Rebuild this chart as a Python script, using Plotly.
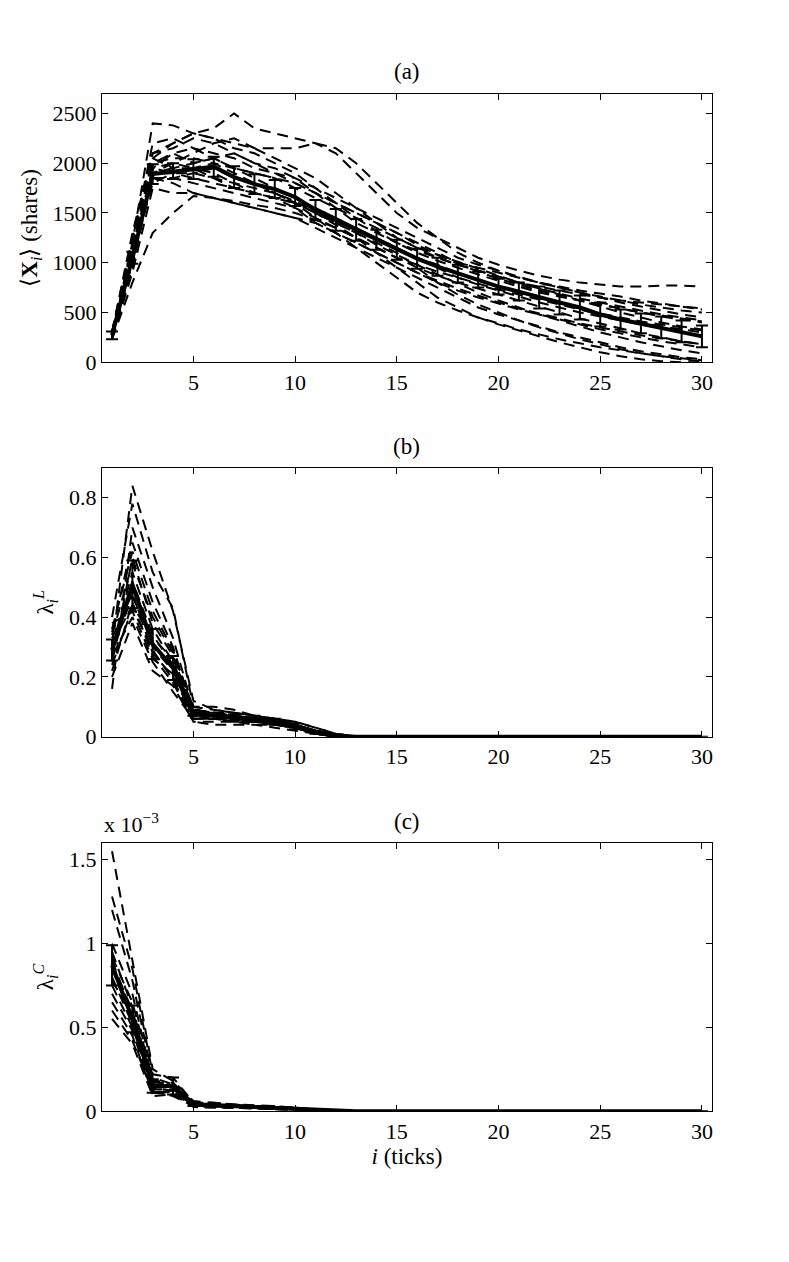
import plotly.graph_objects as go

ticks_i = list(range(1, 31))

# panel (a): <X_i> (shares), one list per run
runs_a = [
    [300, 1300, 2100, 2200, 2300, 2350, 2500, 2350, 2300, 2250, 2200, 2100, 1900, 1700, 1500, 1350, 1250, 1150, 1050, 980, 920, 870, 830, 800, 780, 760, 760, 770, 770, 760],
    [250, 1200, 2400, 2380, 2300, 2250, 2200, 2150, 2050, 1950, 1850, 1700, 1550, 1400, 1250, 1150, 1050, 980, 920, 860, 800, 760, 720, 680, 650, 620, 600, 580, 560, 540],
    [280, 1150, 2050, 2200, 2300, 2250, 2150, 2100, 2000, 1900, 1750, 1600, 1450, 1320, 1200, 1100, 1020, 950, 880, 820, 760, 700, 660, 620, 580, 540, 500, 460, 430, 400],
    [260, 1100, 1900, 2000, 2100, 2200, 2250, 2150, 2150, 2150, 2200, 2150, 2000, 1800, 1600, 1400, 1250, 1100, 1000, 920, 850, 800, 760, 720, 690, 660, 620, 590, 560, 530],
    [300, 1000, 1950, 2100, 2150, 2050, 1950, 1900, 1850, 1800, 1700, 1600, 1500, 1400, 1300, 1200, 1100, 1000, 950, 900, 850, 800, 750, 700, 650, 600, 560, 520, 480, 450],
    [230, 800, 1300, 1500, 1670, 1650, 1600, 1550, 1500, 1450, 1400, 1300, 1200, 1100, 1000, 900, 800, 720, 650, 590, 530, 480, 430, 380, 330, 290, 250, 210, 180, 150],
    [270, 1100, 1850, 1850, 1800, 1750, 1700, 1650, 1600, 1550, 1450, 1350, 1250, 1100, 950, 800, 650, 550, 450, 380, 320, 260, 200, 150, 100, 60, 30, 10, 0, 0],
    [290, 1050, 2000, 2050, 2050, 2000, 1900, 1800, 1700, 1600, 1500, 1400, 1300, 1200, 1100, 950, 800, 680, 580, 500, 420, 350, 290, 230, 180, 130, 90, 60, 30, 10],
    [250, 1150, 1950, 1900, 1900, 1850, 1800, 1750, 1700, 1620, 1500, 1380, 1250, 1150, 1050, 980, 910, 850, 790, 730, 680, 630, 580, 530, 480, 440, 400, 360, 330, 300],
    [280, 1000, 1850, 1800, 1700, 1650, 1620, 1580, 1550, 1500, 1430, 1350, 1250, 1150, 1050, 950, 870, 800, 740, 680, 620, 560, 500, 440, 390, 340, 290, 250, 210, 180],
    [300, 1200, 2000, 2100, 2000, 2050, 2100, 2000, 1900, 1850, 1750, 1650, 1550, 1450, 1350, 1250, 1150, 1050, 980, 920, 860, 800, 750, 700, 660, 620, 580, 550, 520, 500],
    [260, 1050, 1900, 1950, 1950, 1900, 1800, 1700, 1650, 1550, 1400, 1300, 1200, 1100, 1000, 900, 820, 740, 670, 600, 540, 490, 440, 390, 350, 310, 270, 240, 210, 180],
    [240, 900, 1750, 1700, 1700, 1650, 1600, 1550, 1500, 1450, 1350, 1250, 1150, 1050, 950, 850, 750, 650, 550, 480, 420, 360, 300, 250, 200, 150, 110, 80, 50, 30],
    [310, 1250, 2100, 2150, 2250, 2200, 2100, 2000, 1950, 1850, 1700, 1550, 1400, 1300, 1200, 1120, 1050, 980, 920, 860, 800, 740, 690, 640, 600, 560, 520, 480, 450, 420],
    [270, 1100, 1800, 1900, 1950, 2000, 1950, 1850, 1750, 1650, 1550, 1450, 1350, 1250, 1150, 1050, 950, 850, 780, 720, 660, 600, 550, 500, 460, 420, 380, 340, 300, 270],
    [250, 950, 1900, 1900, 1850, 1800, 1750, 1700, 1650, 1600, 1500, 1400, 1300, 1180, 1080, 980, 880, 790, 700, 620, 550, 480, 420, 360, 300, 250, 200, 160, 120, 90],
    [290, 1150, 2050, 1950, 2000, 2050, 1950, 1900, 1850, 1750, 1650, 1550, 1450, 1350, 1250, 1150, 1080, 1010, 940, 870, 800, 740, 680, 620, 560, 500, 450, 400, 360, 330],
    [260, 1000, 1850, 1850, 1900, 1950, 1850, 1800, 1700, 1600, 1450, 1300, 1150, 1000, 850, 700, 600, 520, 450, 390, 330, 280, 230, 190, 150, 120, 90, 60, 40, 20],
    [280, 1100, 1950, 2000, 1950, 1850, 1750, 1700, 1650, 1600, 1550, 1450, 1350, 1250, 1150, 1050, 980, 900, 830, 760, 700, 640, 590, 540, 490, 450, 410, 380, 350, 320],
    [300, 1200, 2200, 2250, 2150, 2100, 2050, 1950, 1900, 1800, 1700, 1600, 1500, 1400, 1300, 1180, 1080, 990, 910, 840, 780, 720, 670, 620, 580, 540, 500, 470, 440, 410],
]
mean_a = [270, 1050, 1890, 1920, 1940, 1965, 1860, 1790, 1740, 1660, 1530, 1430, 1330, 1230, 1130, 1040, 960, 890, 830, 760, 710, 650, 600, 550, 480, 430, 390, 350, 310, 260]
err_a = [40, 60, 100, 80, 100, 100, 110, 100, 90, 90, 100, 110, 110, 100, 100, 100, 90, 90, 80, 80, 90, 110, 120, 120, 120, 100, 100, 110, 110, 110]

# panel (b): lambda^L, zero from tick 13 on
zeros_b = [0] * 17
runs_b = [
    [0.30, 0.84, 0.62, 0.42, 0.12, 0.09, 0.08, 0.07, 0.06, 0.04, 0.02, 0.005, 0] + zeros_b,
    [0.40, 0.78, 0.55, 0.43, 0.10, 0.10, 0.09, 0.07, 0.05, 0.03, 0.01, 0, 0] + zeros_b,
    [0.16, 0.70, 0.50, 0.33, 0.09, 0.08, 0.07, 0.06, 0.06, 0.05, 0.03, 0.01, 0] + zeros_b,
    [0.35, 0.65, 0.45, 0.30, 0.08, 0.07, 0.06, 0.05, 0.04, 0.03, 0.01, 0, 0] + zeros_b,
    [0.25, 0.60, 0.38, 0.27, 0.07, 0.07, 0.07, 0.06, 0.05, 0.04, 0.02, 0.005, 0] + zeros_b,
    [0.30, 0.55, 0.36, 0.25, 0.08, 0.08, 0.07, 0.06, 0.05, 0.03, 0.01, 0, 0] + zeros_b,
    [0.28, 0.50, 0.30, 0.22, 0.06, 0.06, 0.06, 0.05, 0.04, 0.03, 0.02, 0.005, 0] + zeros_b,
    [0.33, 0.48, 0.28, 0.20, 0.07, 0.07, 0.06, 0.05, 0.05, 0.04, 0.02, 0, 0] + zeros_b,
    [0.22, 0.45, 0.27, 0.18, 0.05, 0.05, 0.05, 0.04, 0.04, 0.03, 0.01, 0, 0] + zeros_b,
    [0.38, 0.42, 0.26, 0.21, 0.09, 0.08, 0.08, 0.07, 0.06, 0.04, 0.02, 0.005, 0] + zeros_b,
    [0.27, 0.40, 0.25, 0.15, 0.06, 0.06, 0.05, 0.05, 0.04, 0.03, 0.01, 0, 0] + zeros_b,
    [0.31, 0.44, 0.33, 0.26, 0.10, 0.09, 0.08, 0.07, 0.06, 0.05, 0.03, 0.01, 0] + zeros_b,
    [0.26, 0.52, 0.34, 0.24, 0.07, 0.06, 0.06, 0.06, 0.05, 0.04, 0.02, 0, 0] + zeros_b,
    [0.34, 0.58, 0.40, 0.28, 0.08, 0.07, 0.07, 0.06, 0.06, 0.04, 0.02, 0.005, 0] + zeros_b,
    [0.20, 0.38, 0.22, 0.17, 0.05, 0.04, 0.04, 0.04, 0.03, 0.02, 0.01, 0, 0] + zeros_b,
    [0.29, 0.47, 0.31, 0.23, 0.07, 0.07, 0.06, 0.06, 0.05, 0.03, 0.01, 0, 0] + zeros_b,
    [0.36, 0.62, 0.42, 0.29, 0.09, 0.08, 0.07, 0.06, 0.05, 0.04, 0.02, 0.005, 0] + zeros_b,
    [0.24, 0.43, 0.29, 0.19, 0.06, 0.06, 0.05, 0.05, 0.04, 0.03, 0.01, 0, 0] + zeros_b,
]
mean_b = [0.29, 0.51, 0.31, 0.23, 0.08, 0.07, 0.065, 0.06, 0.05, 0.035, 0.015, 0.003, 0] + zeros_b
err_b = [0.035, 0.08, 0.05, 0.04, 0.01, 0.01, 0.01, 0.01, 0.01, 0.01, 0.005, 0.002, 0] + zeros_b

# panel (c): lambda^C in units of 1e-3
zeros_c = [0] * 17
runs_c = [
    [1.55, 0.90, 0.25, 0.18, 0.06, 0.05, 0.04, 0.035, 0.03, 0.02, 0.01, 0.002, 0] + zeros_c,
    [1.28, 0.85, 0.22, 0.20, 0.05, 0.05, 0.04, 0.03, 0.03, 0.02, 0.01, 0, 0] + zeros_c,
    [1.20, 0.78, 0.20, 0.16, 0.05, 0.04, 0.035, 0.03, 0.025, 0.02, 0.008, 0, 0] + zeros_c,
    [1.00, 0.70, 0.18, 0.15, 0.04, 0.04, 0.03, 0.03, 0.02, 0.015, 0.005, 0, 0] + zeros_c,
    [0.95, 0.62, 0.15, 0.14, 0.04, 0.035, 0.03, 0.025, 0.02, 0.015, 0.005, 0, 0] + zeros_c,
    [0.90, 0.58, 0.14, 0.12, 0.035, 0.03, 0.025, 0.02, 0.02, 0.01, 0.005, 0, 0] + zeros_c,
    [0.85, 0.55, 0.13, 0.13, 0.04, 0.035, 0.03, 0.025, 0.02, 0.015, 0.005, 0, 0] + zeros_c,
    [0.80, 0.52, 0.12, 0.11, 0.03, 0.03, 0.025, 0.02, 0.015, 0.01, 0.005, 0, 0] + zeros_c,
    [0.75, 0.50, 0.16, 0.14, 0.04, 0.03, 0.03, 0.025, 0.02, 0.015, 0.005, 0, 0] + zeros_c,
    [0.70, 0.48, 0.11, 0.10, 0.03, 0.025, 0.02, 0.02, 0.015, 0.01, 0.005, 0, 0] + zeros_c,
    [0.65, 0.45, 0.10, 0.12, 0.035, 0.03, 0.025, 0.02, 0.015, 0.01, 0.004, 0, 0] + zeros_c,
    [0.60, 0.42, 0.12, 0.09, 0.03, 0.025, 0.02, 0.015, 0.01, 0.008, 0.003, 0, 0] + zeros_c,
    [0.55, 0.40, 0.09, 0.10, 0.025, 0.02, 0.02, 0.015, 0.01, 0.008, 0.003, 0, 0] + zeros_c,
    [0.88, 0.60, 0.17, 0.17, 0.05, 0.04, 0.035, 0.03, 0.025, 0.02, 0.01, 0.002, 0] + zeros_c,
    [0.78, 0.57, 0.14, 0.12, 0.04, 0.03, 0.025, 0.025, 0.02, 0.012, 0.005, 0, 0] + zeros_c,
    [0.92, 0.65, 0.19, 0.15, 0.045, 0.04, 0.035, 0.03, 0.025, 0.018, 0.008, 0, 0] + zeros_c,
]
mean_c = [0.87, 0.55, 0.15, 0.15, 0.04, 0.035, 0.03, 0.025, 0.02, 0.015, 0.008, 0.002, 0] + zeros_c
err_c = [0.12, 0.08, 0.04, 0.05, 0.01, 0.008, 0.006, 0.005, 0.005, 0.004, 0.003, 0.001, 0] + zeros_c

panels = [
    ("(a)", runs_a, mean_a, err_a, [0, 2700], [0, 500, 1000, 1500, 2000, 2500]),
    ("(b)", runs_b, mean_b, err_b, [0, 0.9], [0, 0.2, 0.4, 0.6, 0.8]),
    ("(c)", runs_c, mean_c, err_c, [0, 1.6], [0, 0.5, 1, 1.5]),
]
ylabels = [
    "\u27e8<b>X</b><sub><i>i</i></sub>\u27e9 (shares)",
    "\u03bb<sub><i>i</i></sub><sup><i>L</i></sup>",
    "\u03bb<sub><i>i</i></sub><sup><i>C</i></sup>",
]

W, H = 789, 1262
left, right = 102, 713
tops = [94.5, 472.7, 851.7]
bottoms = [366, 744.3, 1122.7]
font = "Liberation Serif"
tick_size = 22
label_size = 23

fig = go.Figure()
for k, (name, runs, mean, err, yr, yt) in enumerate(panels):
    n = "" if k == 0 else str(k + 1)
    for r in runs:
        fig.add_trace(go.Scatter(x=ticks_i, y=r, mode="lines", xaxis="x" + n, yaxis="y" + n,
                                 line=dict(color="black", width=2, dash="11px,7px"),
                                 showlegend=False, hoverinfo="skip"))
    fig.add_trace(go.Scatter(x=ticks_i, y=mean, mode="lines", xaxis="x" + n, yaxis="y" + n,
                             line=dict(color="black", width=4),
                             error_y=dict(type="data", array=err, color="black", thickness=2, width=6),
                             showlegend=False))
    ax = dict(showline=True, linecolor="black", linewidth=1, mirror="ticks", ticks="inside",
              ticklen=6, tickcolor="black", showgrid=False, zeroline=False,
              tickfont=dict(family=font, size=tick_size, color="black"))
    xa = dict(ax, domain=[left / W, right / W], range=[0.5, 30.5], tickvals=[5, 10, 15, 20, 25, 30],
              anchor="y" + n)
    if k == 2:
        xa["title"] = dict(text="<i>i</i> (ticks)", font=dict(family=font, size=label_size, color="black"), standoff=2)
    ya = dict(ax, domain=[1 - bottoms[k] / H, 1 - tops[k] / H], range=yr, tickvals=yt,
              anchor="x" + n, title=dict(text=ylabels[k], font=dict(family=font, size=label_size, color="black"), standoff=8))
    fig.layout["xaxis" + n] = xa
    fig.layout["yaxis" + n] = ya
    fig.add_annotation(text=name, xref="paper", yref="paper", x=(left + right) / 2 / W, y=1 - (tops[k] - 22) / H,
                       yanchor="middle", showarrow=False, font=dict(family=font, size=label_size, color="black"))

fig.add_annotation(text="x 10<sup>\u22123</sup>", xref="paper", yref="paper", x=left / W, y=1 - (tops[2] - 4) / H,
                   xanchor="left", yanchor="bottom", showarrow=False, font=dict(family=font, size=tick_size, color="black"))

fig.update_layout(width=W, height=H, margin=dict(l=0, r=0, t=0, b=0),
                  plot_bgcolor="white", paper_bgcolor="white")
fig.write_html("out.html", config={"displayModeBar": False},
               post_script="document.body.style.margin='0';document.body.style.overflow='hidden';")
